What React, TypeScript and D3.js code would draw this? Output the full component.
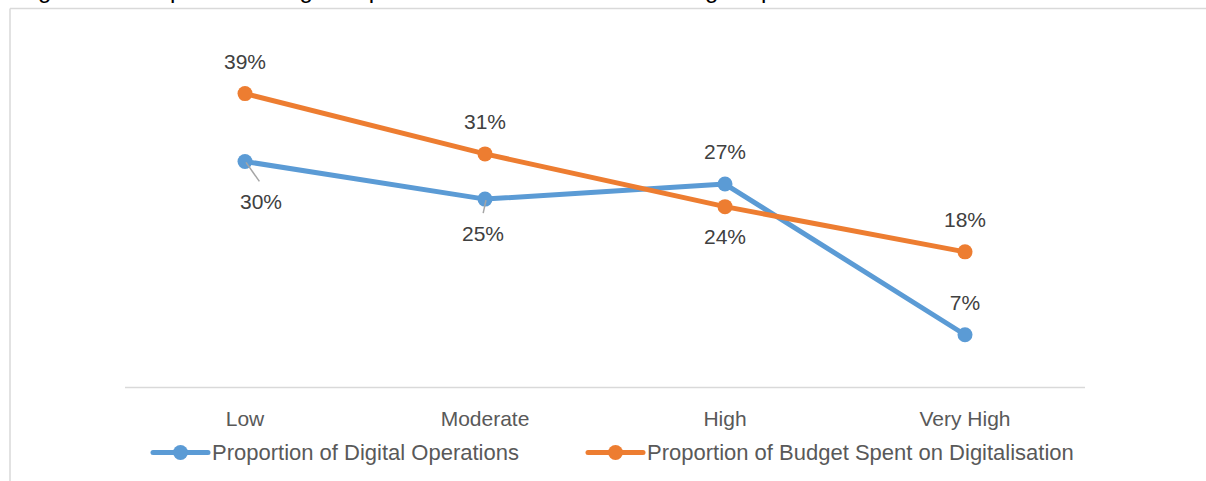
import React from "react";
import * as d3 from "d3";

const categories = ["Low", "Moderate", "High", "Very High"];
const digitalOps = [0.30, 0.25, 0.27, 0.07];
const budgetSpent = [0.39, 0.31, 0.24, 0.18];
const seriesNames = ["Proportion of Digital Operations", "Proportion of Budget Spent on Digitalisation"];
const titleText = "Figure 13: Proportion of Digital Operations and Most Recent Budget Spent";

// label placement (layout only): dx, dy of baseline relative to point, leader line flag
const digitalLabelPos = [
  { dx: 16, dy: 48, leader: true },
  { dx: -2, dy: 42, leader: true },
  { dx: 0, dy: -25, leader: false },
  { dx: 0, dy: -25, leader: false },
];
const budgetLabelPos = [
  { dx: 0, dy: -25, leader: false },
  { dx: 0, dy: -25, leader: false },
  { dx: 0, dy: 37, leader: false },
  { dx: 0, dy: -25, leader: false },
];

const W = 1206;
const H = 481;
const BLUE = "#5B9BD5";
const ORANGE = "#ED7D31";
const FONT = "'Liberation Sans', Arial, sans-serif";

export default function App() {
  const x = d3.scalePoint<string>().domain(categories).range([125, 1085]).padding(0.5);
  const y = d3.scaleLinear().domain([0, 0.45]).range([387.5, 48.4]);
  const fmt = d3.format(".0%");

  const line = d3
    .line<number>()
    .x((_, i) => x(categories[i]) as number)
    .y((d) => y(d));

  const series = [
    { values: digitalOps, color: BLUE, pos: digitalLabelPos },
    { values: budgetSpent, color: ORANGE, pos: budgetLabelPos },
  ];

  const legendItems = [
    { name: seriesNames[0], color: BLUE, x0: 153 },
    { name: seriesNames[1], color: ORANGE, x0: 588 },
  ];

  return (
    <svg
      width={W}
      height={H}
      style={{ position: "absolute", left: 0, top: 0, background: "#fff" }}
      fontFamily={FONT}
    >
      <rect x={0} y={0} width={W} height={H} fill="#fff" />
      <text x={18} y={-2} fontSize={24} fill="#000">
        {titleText}
      </text>
      {/* chart frame */}
      <line x1={10} y1={8.5} x2={W} y2={8.5} stroke="#D9D9D9" strokeWidth={1.5} />
      <line x1={10} y1={8.5} x2={10} y2={H} stroke="#D9D9D9" strokeWidth={1.5} />

      {/* category axis */}
      <line x1={125} y1={387.5} x2={1085} y2={387.5} stroke="#D9D9D9" strokeWidth={1.5} />
      {categories.map((c) => (
        <text key={c} x={x(c)} y={426} fontSize={21} fill="#595959" textAnchor="middle">
          {c}
        </text>
      ))}

      {/* lines */}
      {series.map((s, si) => (
        <g key={si}>
          <path
            d={line(s.values) || ""}
            fill="none"
            stroke={s.color}
            strokeWidth={5}
            strokeLinecap="round"
            strokeLinejoin="round"
          />
          {s.values.map((v, i) => (
            <circle key={i} cx={x(categories[i])} cy={y(v)} r={7.5} fill={s.color} />
          ))}
        </g>
      ))}

      {/* data labels */}
      {series.map((s, si) => (
        <g key={"l" + si}>
          {s.values.map((v, i) => {
            const px = x(categories[i]) as number;
            const py = y(v);
            const p = s.pos[i];
            return (
              <g key={i}>
                {p.leader && (
                  <line
                    x1={px + 1}
                    y1={py + 1}
                    x2={px + p.dx * 0.9}
                    y2={py + p.dy - 28}
                    stroke="#A6A6A6"
                    strokeWidth={1.5}
                  />
                )}
                <text x={px + p.dx} y={py + p.dy} fontSize={21} fill="#404040" textAnchor="middle">
                  {fmt(v)}
                </text>
              </g>
            );
          })}
        </g>
      ))}

      {/* legend */}
      {legendItems.map((l) => (
        <g key={l.name}>
          <line
            x1={l.x0}
            y1={452.5}
            x2={l.x0 + 55}
            y2={452.5}
            stroke={l.color}
            strokeWidth={5}
            strokeLinecap="round"
          />
          <circle cx={l.x0 + 27.5} cy={452.5} r={7.5} fill={l.color} />
          <text x={l.x0 + 59} y={460} fontSize={22} fill="#595959">
            {l.name}
          </text>
        </g>
      ))}
    </svg>
  );
}
